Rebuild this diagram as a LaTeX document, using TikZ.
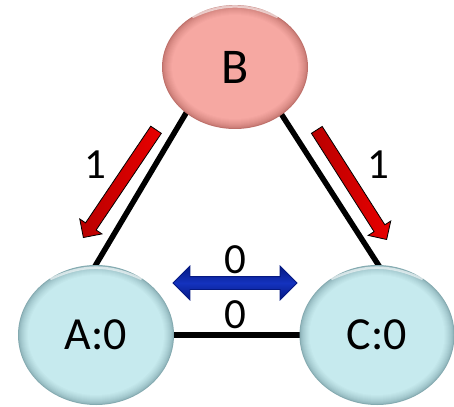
\documentclass[tikz,border=0pt]{standalone}
\usepackage{fontspec}
\setmainfont{Carlito}
\usetikzlibrary{shapes.geometric,shapes.arrows}
\definecolor{pinkbase}{RGB}{246,168,162}
\definecolor{pinkdark}{RGB}{190,112,106}
\definecolor{cyanbase}{RGB}{198,234,238}
\definecolor{cyandark}{RGB}{132,170,176}
\definecolor{arrred}{RGB}{232,0,0}
\definecolor{arrreddark}{RGB}{185,0,0}
\definecolor{arrblue}{RGB}{20,50,190}
\definecolor{arrbluedark}{RGB}{5,25,130}
% bevelled ellipse: centre x, centre y, x radius, y radius, base colour, dark colour
\newcommand\mybevel[6]{%
  \foreach \k in {0,...,10}{%
    \pgfmathsetmacro\m{100*(\k/10)^0.6}%
    \fill[#5!\m!#6] (#1,#2) ellipse [x radius={#3-\k}, y radius={#4-\k}];
  }%
}
\tikzset{
  nodeB/.style={ellipse, inner sep=0pt, minimum width=144pt, minimum height=124pt, font=\fontsize{50}{56}\selectfont},
  nodeAC/.style={ellipse, inner sep=0pt, minimum width=155pt, minimum height=140pt, font=\fontsize{46}{52}\selectfont},
  edge/.style={line width=5.5pt, black},
  redarrow/.style={single arrow, draw=black, line width=0.8pt, left color=arrreddark, right color=arrred, inner xsep=0pt, inner ysep=6pt, minimum height=130pt, single arrow head extend=7pt},
  bluearrow/.style={double arrow, draw=arrbluedark, line width=0.8pt, top color=arrbluedark, bottom color=arrbluedark, middle color=arrblue, inner xsep=0pt, inner ysep=6pt, minimum height=124pt, double arrow head extend=10.5pt},
  lbl/.style={font=\fontsize{43}{48}\selectfont, inner sep=0pt},
  shine/.style={white, opacity=0.6, line width=2.5pt, line cap=round}
}
\begin{document}
\begin{tikzpicture}[x=1pt,y=-1pt]
\useasboundingbox (0,0) rectangle (454,406);
% edge end points (hidden under the ellipses)
\coordinate (ba1) at (195,98);
\coordinate (ba2) at (85,283);
\coordinate (bc1) at (271,98);
\coordinate (bc2) at (390,283);
\coordinate (ac1) at (96,335);
\coordinate (ac2) at (377,335);
\draw[edge] (ba1) -- (ba2);
\draw[edge] (bc1) -- (bc2);
\draw[edge] (ac1) -- (ac2);
% bevelled fills
\mybevel{235}{67}{73}{62}{pinkbase}{pinkdark}
\mybevel{96}{335}{78}{70}{cyanbase}{cyandark}
\mybevel{377}{335}{77.5}{70}{cyanbase}{cyandark}
% nodes
\node[nodeB] (B) at (235,67) {B};
\node[nodeAC] (A) at (96,335) {A:0};
\node[nodeAC] (C) at (377,335) {C:0};
% highlights
\draw[shine] ([shift={(-42pt,-12pt)}]B.north) to[bend left=25] ([shift={(42pt,-12pt)}]B.north);
\draw[shine] ([shift={(-45pt,-14pt)}]A.north) to[bend left=25] ([shift={(45pt,-14pt)}]A.north);
\draw[shine] ([shift={(-45pt,-14pt)}]C.north) to[bend left=25] ([shift={(45pt,-14pt)}]C.north);
% block arrows
\node[redarrow, rotate=236] (ra) at (121.5,181) {};
\node[redarrow, rotate=302.5] (rc) at (350,182) {};
\node[bluearrow] (bl) at (235,283) {};
% labels
\node[lbl] (l1) at (95,165) {1};
\node[lbl] (l2) at (378,165) {1};
\node[lbl] (l3) at (235,260) {0};
\node[lbl] (l4) at (235,315) {0};
\end{tikzpicture}
\end{document}
